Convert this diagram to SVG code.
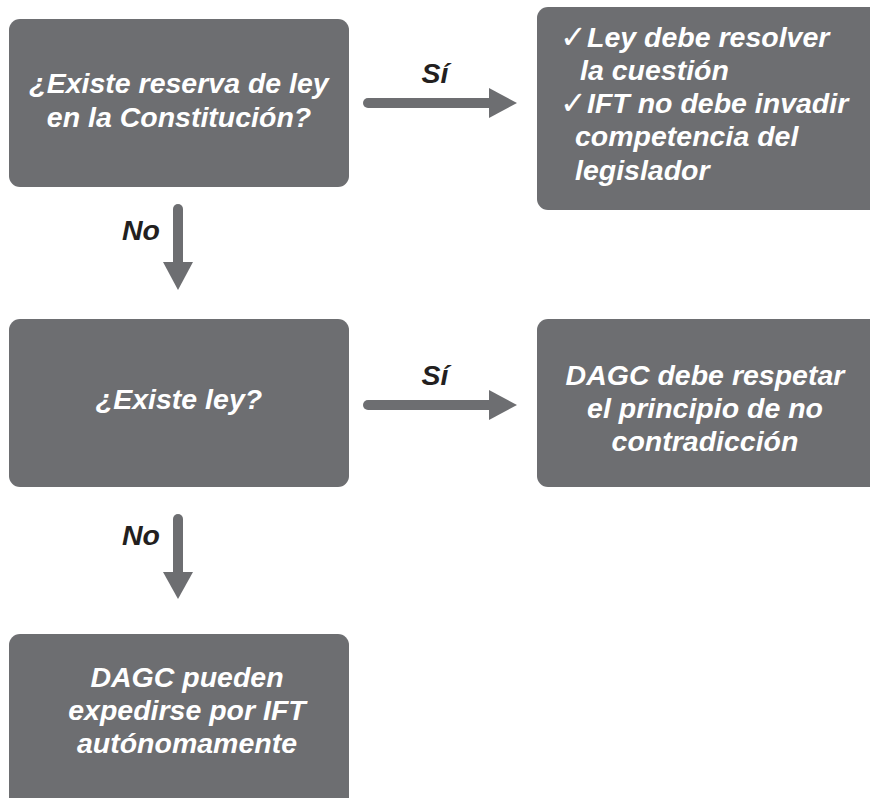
<svg xmlns="http://www.w3.org/2000/svg" width="870" height="798" viewBox="0 0 870 798">
<defs>
<style>
.box{fill:#6d6e71;}
.t{font-family:"Liberation Sans",Arial,sans-serif;font-weight:bold;font-style:italic;font-size:28.5px;fill:#ffffff;}
.c{text-anchor:middle;}
.lbl{font-family:"Liberation Sans",Arial,sans-serif;font-weight:bold;font-style:italic;font-size:28.5px;fill:#231f20;}
.ln{stroke:#6d6e71;stroke-width:10;stroke-linecap:round;fill:none;}
.ah{fill:#6d6e71;}
.ck{font-family:"DejaVu Sans",sans-serif;font-size:32px;font-weight:bold;fill:#ffffff;}
</style>
</defs>
<g id="connectors">
<g id="e1"><line class="ln" x1="368" y1="103" x2="492" y2="103"/><polygon class="ah" points="489,88 517,103 489,118"/><text class="lbl c" x="435" y="83">Sí</text></g>
<g id="e2"><line class="ln" x1="368" y1="405" x2="492" y2="405"/><polygon class="ah" points="489,390 517,405 489,420"/><text class="lbl c" x="435" y="385">Sí</text></g>
<g id="e3"><line class="ln" x1="178" y1="209" x2="178" y2="265"/><polygon class="ah" points="163,262 193,262 178,290"/><text class="lbl" x="122" y="240">No</text></g>
<g id="e4"><line class="ln" x1="178" y1="519" x2="178" y2="575"/><polygon class="ah" points="163,572 193,572 178,599"/><text class="lbl" x="122" y="545">No</text></g>
</g>
<g id="n1"><rect class="box" x="9" y="19" width="340" height="168" rx="11"/>
<text class="t c" x="179" y="93">¿Existe reserva de ley</text>
<text class="t c" x="179" y="127">en la Constitución?</text></g>
<g id="n2"><rect class="box" x="537" y="7" width="345" height="203" rx="11"/>
<text class="ck" x="560" y="48">✓</text>
<text class="t" x="587" y="47">Ley debe resolver</text>
<text class="t" x="580" y="80">la cuestión</text>
<text class="ck" x="560" y="114">✓</text>
<text class="t" x="587" y="113">IFT no debe invadir</text>
<text class="t" x="575" y="146">competencia del</text>
<text class="t" x="575" y="180">legislador</text></g>
<g id="n3"><rect class="box" x="9" y="319" width="340" height="168" rx="11"/>
<text class="t c" x="179" y="409">¿Existe ley?</text></g>
<g id="n4"><rect class="box" x="537" y="319" width="345" height="168" rx="11"/>
<text class="t c" x="705" y="385">DAGC debe respetar</text>
<text class="t c" x="705" y="418">el principio de no</text>
<text class="t c" x="705" y="451">contradicción</text></g>
<g id="n5"><rect class="box" x="9" y="634" width="340" height="180" rx="11"/>
<text class="t c" x="187" y="687">DAGC pueden</text>
<text class="t c" x="187" y="720">expedirse por IFT</text>
<text class="t c" x="187" y="753">autónomamente</text></g>
</svg>
